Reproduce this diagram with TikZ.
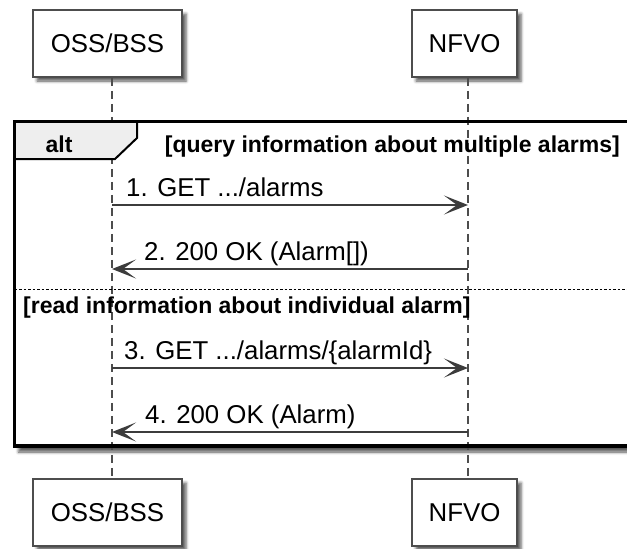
\documentclass[tikz,border=0pt]{standalone}
\usepackage{fontspec}
\setmainfont{Liberation Sans}
\usetikzlibrary{arrows.meta, positioning, shadows.blur}
\definecolor{boxline}{HTML}{4D4D4D}
\definecolor{msgline}{HTML}{3C3C3C}
\definecolor{tabfill}{HTML}{EEEEEE}
\newcommand{\msgfont}{\fontsize{25.8}{30}\selectfont}
\newcommand{\guardfont}{\fontsize{23}{28}\selectfont\bfseries}

\begin{document}
\begin{tikzpicture}[x=1pt, y=-1pt]
% Node styles
\tikzstyle{actor} = [rectangle, draw=boxline, line width=1.6pt, fill=white, minimum height=67pt, inner sep=0pt, font=\msgfont, blur shadow={shadow xshift=4pt, shadow yshift=-4pt, shadow blur radius=3pt, shadow opacity=65}]
\tikzstyle{lifeline} = [draw=boxline, line width=1.3pt, dash pattern=on 8pt off 5pt]
\tikzstyle{msg} = [draw=msgline, line width=1.5pt, -{Stealth[length=24pt, width=19pt, inset=13pt]}]
\tikzstyle{msglabel} = [inner sep=0pt, anchor=base west, font=\msgfont, yshift=9pt]
\tikzstyle{guard} = [inner sep=0pt, font=\guardfont]

\useasboundingbox (0,0) rectangle (627,549);
\clip (0,0) rectangle (627,549);

% Participants
\node [actor, minimum width=149pt] (osstop) at (107.5,43.5) {OSS/BSS};
\node [actor, minimum width=105pt] (nfvotop) at (464.5,43.5) {NFVO};
\node [actor, minimum width=149pt] (ossbot) at (107.5,512.5) {OSS/BSS};
\node [actor, minimum width=105pt] (nfvobot) at (464.5,512.5) {NFVO};

% Lifelines and message rows
\coordinate (ossx) at (112,0);
\coordinate (nfvox) at (468,0);
\coordinate (r1) at (0,205);
\coordinate (r2) at (0,269);
\coordinate (r3) at (0,368);
\coordinate (r4) at (0,432);

% alt frame
\coordinate (frametl) at (14.5,121.5);
\coordinate (framebr) at (640,446);
\coordinate (sep) at (0,289);
\path [fill=white, blur shadow={shadow xshift=4pt, shadow yshift=-6pt, shadow blur radius=3pt, shadow opacity=65}] (frametl) rectangle (framebr);

\draw [lifeline] (osstop.south -| ossx) -- (ossbot.north -| ossx);
\draw [lifeline] (nfvotop.south -| nfvox) -- (nfvobot.north -| nfvox);

\draw [line width=2pt, fill=tabfill] (frametl) -- (137,121.5) -- (137,138) -- (115,159) -- (14.5,159);
\draw [line width=3.5pt] (frametl) rectangle (framebr);
\draw [line width=1pt, dash pattern=on 2.5pt off 2pt] (frametl |- sep) -- (framebr |- sep);

\node [guard, anchor=base] (alttxt) at (59,152) {alt};
\node [guard, anchor=base east] (guard1) at (620,152) {[query information about multiple alarms]};
\node [guard, anchor=base west] (guard2) at (23,313) {[read information about individual alarm]};

% Messages
\draw [msg] (ossx |- r1) -- (nfvox |- r1);
\node [msglabel, xshift=14pt] (lbl1) at (ossx |- r1) {1. GET .../alarms};
\draw [msg] (nfvox |- r2) -- (ossx |- r2);
\node [msglabel, xshift=32pt] (lbl2) at (ossx |- r2) {2. 200 OK (Alarm[])};
\draw [msg] (ossx |- r3) -- (nfvox |- r3);
\node [msglabel, xshift=12pt] (lbl3) at (ossx |- r3) {3. GET .../alarms/\{alarmId\}};
\draw [msg] (nfvox |- r4) -- (ossx |- r4);
\node [msglabel, xshift=33pt] (lbl4) at (ossx |- r4) {4. 200 OK (Alarm)};
\end{tikzpicture}
\end{document}
